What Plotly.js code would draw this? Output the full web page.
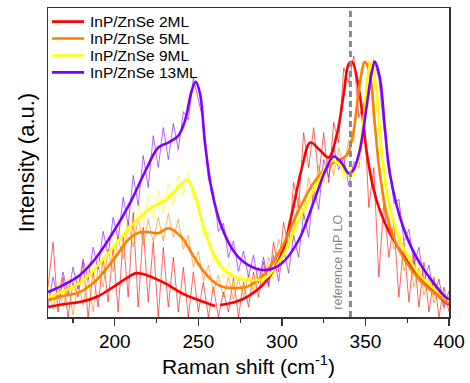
<!DOCTYPE html>
<html>
<head>
<meta charset="utf-8">
<script src="https://cdn.plot.ly/plotly-3.0.1.min.js"></script>
<style>html,body{margin:0;padding:0;background:#fff;}#chart{width:470px;height:383px;}</style>
</head>
<body>
<div id="chart"></div>
<script>
// Raw spectra (Raman shift grid, cm^-1)
var rawShift = [160,163,166,169,172,175,178,181,184,187,190,193,196,199,202,205,208,211,214,217,220,223,226,229,232,235,238,241,244,247,250,253,256,259,262,265,268,271,274,277,280,283,286,289,292,295,298,301,304,307,310,313,316,319,322,325,328,331,334,337,340,343,346,349,352,355,358,361,364,367,370,373,376,379,382,385,388,391,394,397,400];
var raw2ML = [30,75,5,40,0,35,20,55,0,45,10,60,15,70,5,80,20,105,10,90,15,75,0,70,10,60,5,50,0,45,5,35,0,30,0,25,5,40,0,35,10,45,20,55,30,75,45,95,70,135,110,185,150,190,140,185,135,195,175,250,235,262,200,215,110,150,40,115,60,95,20,75,15,65,10,55,5,40,0,30,5];
var raw5ML = [28,8,30,10,32,2,35,12,40,5,52,30,68,45,80,58,95,70,100,72,98,75,100,76,104,80,98,68,82,50,66,36,52,24,42,20,40,18,38,20,42,25,50,32,60,45,78,60,96,84,120,104,140,120,152,134,162,142,170,150,178,176,238,250,256,195,160,108,102,68,78,46,62,30,50,22,40,14,30,8,22];
var raw9ML = [32,14,36,18,40,22,44,28,55,35,64,46,76,58,90,70,102,80,112,92,122,98,128,104,134,112,142,122,146,118,118,82,86,54,64,38,54,30,48,28,46,28,48,30,54,38,66,50,86,74,108,96,128,116,146,134,160,146,164,138,152,138,172,192,254,240,186,140,122,86,90,60,70,42,54,30,42,20,34,12,26];
var raw13ML = [10,40,18,45,22,50,28,58,38,70,48,86,62,100,78,120,92,142,112,162,130,182,150,190,158,194,168,206,198,240,218,196,138,126,86,94,60,76,46,66,40,62,34,60,32,62,36,68,44,82,60,104,80,130,108,158,140,170,148,160,132,156,150,200,222,258,240,190,158,114,118,76,88,52,70,36,52,22,38,10,26];

// Fitted curves (2ML fit is drawn as two pieces, separated by a gap)
var fit2MLX = [160,170,179,189,199,207,213,219,230,240,250,260,null,263,272,280,290,300,306,312,317,323,328,333,337,340,342,346.5,350.6,354.6,358.6,364.6,374.6,384.6,398.5,400];
var fit2MLY = [10,13,15,20,30,39,44,42,34,24,17,11,null,12,15,21,35,64,104,150,175,167,160,184,224,254,256,224,167,130,107,84,57,37,14,13];
var fit5MLX = [160,169,179,189,199,209,215,221,226,232,240,246,254,262,270,280,290,300,310,320,330,338.6,342.6,346.6,349.6,352.6,355.6,358.6,364.6,372.6,382.5,398.5,400];
var fit5MLY = [17,21,25,37,57,79,85,85,84,89,80,64,44,32,29,31,44,70,107,137,154,162,184,234,256,244,194,144,90,60,37,15,14];
var fit9MLX = [160,179,189,199,209,221,230,238,243,247,252,258,264,272,280,290,300,310,320,330,334,340,344.6,348.6,351.6,353.6,356.6,359.6,364.6,372.6,382.5,398.5,400];
var fit9MLY = [20,34,50,70,90,109,117,130,138,127,97,67,50,40,37,39,60,97,130,157,154,142,150,194,244,256,227,167,110,70,42,19,18];
var fit13MLX = [160,169,179,189,199,209,219,226,232,238,242,246,248.4,251,254,258,264,272,280,290,300,310,320,326,331,336,340,342.6,346.6,350.6,353.6,355.6,358.6,361.6,364.6,372.6,382.5,398.5,400];
var fit13MLY = [25,32,42,60,85,114,149,170,175,182,197,227,236,224,174,127,90,64,52,47,54,77,120,147,161,154,144,147,167,210,244,256,240,190,144,90,54,19,18];

var names = ['InP/ZnSe 2ML','InP/ZnSe 5ML','InP/ZnSe 9ML','InP/ZnSe 13ML'];
var colors = ['#ff0000','#ff8000','#ffff00','#8000ff'];
var refLO = 341;
var refLabel = 'reference InP LO';

var raws = [raw2ML, raw5ML, raw9ML, raw13ML];
var fitsX = [fit2MLX, fit5MLX, fit9MLX, fit13MLX];
var fitsY = [fit2MLY, fit5MLY, fit9MLY, fit13MLY];
var traces = [];
raws.forEach(function(r, i){
  traces.push({x: rawShift, y: r, type:'scatter', mode:'lines', showlegend:false, hoverinfo:'skip',
    line:{color: colors[i], width:1}, opacity:0.6});
});
fitsX.forEach(function(fx, i){
  traces.push({x: fx, y: fitsY[i], type:'scatter', mode:'lines', name:names[i], connectgaps:false, showlegend:false,
    line:{color:colors[i], width:2.6, shape:'spline', smoothing:1}});
});

// Compact legend (layout only): sample line + label per series
var shapes = [{type:'line', xref:'x', yref:'paper', x0:refLO, x1:refLO, y0:0, y1:1,
  line:{color:'#888', width:3, dash:'6px,4px'}}];
var annotations = [{xref:'x', yref:'paper', x:refLO, y:0.177, xanchor:'center', yanchor:'middle', xshift:-12,
  text:refLabel, textangle:-90, showarrow:false, font:{size:12.5, color:'#888'}}];
var legTop = 0.956, legStep = 0.0548;
names.forEach(function(n, i){
  var yy = legTop - i*legStep;
  shapes.push({type:'line', xref:'paper', yref:'paper', x0:0.01, x1:0.09, y0:yy, y1:yy,
    line:{color:colors[i], width:2.6}});
  annotations.push({xref:'paper', yref:'paper', x:0.1, y:yy, xanchor:'left', yanchor:'middle',
    text:n, showarrow:false, font:{size:15.5, color:'#000'}});
});

var layout = {
  width:470, height:383,
  margin:{l:48, r:21, t:8, b:66},
  paper_bgcolor:'#fff', plot_bgcolor:'#fff',
  font:{family:'Arial, "Liberation Sans", sans-serif', color:'#000'},
  showlegend:false,
  xaxis:{range:[160,400], tickvals:[200,250,300,350,400], ticks:'outside', ticklen:7, tickwidth:1.2,
    tickcolor:'#333', showline:true, linecolor:'#333', linewidth:1.5, mirror:true, showgrid:false, zeroline:false,
    tickfont:{size:19}, minor:{dtick:25, tick0:0, ticks:'outside', ticklen:4, tickcolor:'#333', showgrid:false},
    title:{text:'Raman shift (cm<sup>-1</sup>)', font:{size:21}, standoff:5}},
  yaxis:{range:[0,310], showticklabels:false, ticks:'', showline:true, linecolor:'#333', linewidth:1.5, mirror:true,
    showgrid:false, zeroline:false, title:{text:'Intensity (a.u.)', font:{size:22}, standoff:6}},
  shapes: shapes,
  annotations: annotations
};
Plotly.newPlot('chart', traces, layout, {displayModeBar:false, staticPlot:true});
</script>
</body>
</html>
